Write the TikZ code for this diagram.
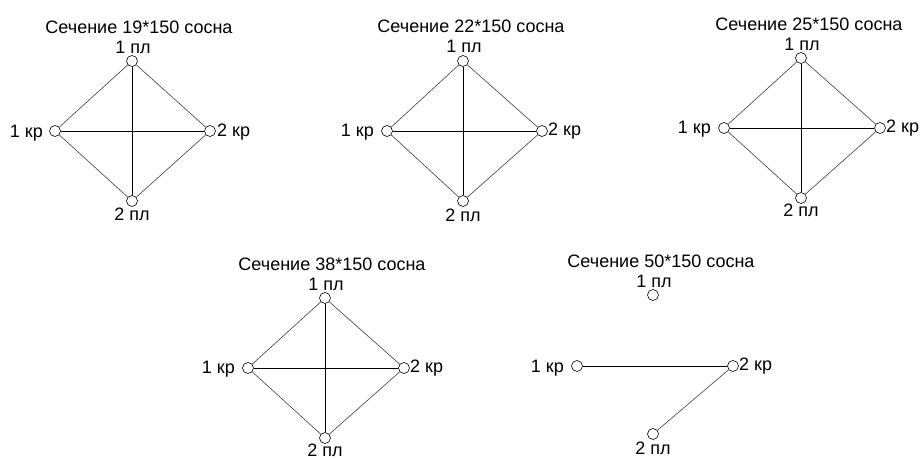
\documentclass[tikz,border=0pt]{standalone}
\usepackage{fontspec}
\setmainfont{Liberation Sans}
\begin{document}
\begin{tikzpicture}[x=1pt,y=-1pt,
  pt/.style={circle,draw=black,fill=white,minimum size=11pt,inner sep=0pt,line width=0.6pt},
  lbl/.style={inner sep=0pt,anchor=base,font=\fontsize{18}{21}\selectfont},
  lbll/.style={lbl,anchor=base east},
  lblr/.style={lbl,anchor=base west},
  ttl/.style={lbl},
  straight/.style={draw=black,line width=0.7pt},
  diag/.style={draw=black!75,line width=0.6pt}]
\useasboundingbox (0,0) rectangle (923,458);
\fill[white] (0,0) rectangle (923,458);

% Diagram 1
\node[ttl] (T1) at (139,33) {Сечение 19*150 сосна};
\node[pt] (a1) at (132,61) {};
\node[pt] (a2) at (55,131) {};
\node[pt] (a3) at (210,131) {};
\node[pt] (a4) at (132,201) {};
\node[lbl] (a1l) at (133,53) {1 пл};
\node[lbll] (a2l) at (43,137) {1 кр};
\node[lblr] (a3l) at (217,136) {2 кр};
\node[lbl] (a4l) at (132,220) {2 пл};
\draw[straight] (a1) -- (a4);
\draw[straight] (a2) -- (a3);
\draw[diag] (a1) -- (a2) -- (a4) -- (a3) -- (a1);

% Diagram 2
\node[ttl] (T2) at (471,32) {Сечение 22*150 сосна};
\node[pt] (b1) at (463,61) {};
\node[pt] (b2) at (387,131) {};
\node[pt] (b3) at (542,131) {};
\node[pt] (b4) at (463,201) {};
\node[lbl] (b1l) at (464,52) {1 пл};
\node[lbll] (b2l) at (374,136) {1 кр};
\node[lblr] (b3l) at (548,135) {2 кр};
\node[lbl] (b4l) at (463,221) {2 пл};
\draw[straight] (b1) -- (b4);
\draw[straight] (b2) -- (b3);
\draw[diag] (b1) -- (b2) -- (b4) -- (b3) -- (b1);

% Diagram 3
\node[ttl] (T3) at (809,30) {Сечение 25*150 сосна};
\node[pt] (c1) at (801,58) {};
\node[pt] (c2) at (724,128) {};
\node[pt] (c3) at (880,128) {};
\node[pt] (c4) at (801,198) {};
\node[lbl] (c1l) at (802,50) {1 пл};
\node[lbll] (c2l) at (711,133) {1 кр};
\node[lblr] (c3l) at (886,132) {2 кр};
\node[lbl] (c4l) at (801,216) {2 пл};
\draw[straight] (c1) -- (c4);
\draw[straight] (c2) -- (c3);
\draw[diag] (c1) -- (c2) -- (c4) -- (c3) -- (c1);

% Diagram 4
\node[ttl] (T4) at (332,270) {Сечение 38*150 сосна};
\node[pt] (d1) at (325,298) {};
\node[pt] (d2) at (248,368) {};
\node[pt] (d3) at (404,368) {};
\node[pt] (d4) at (325,438) {};
\node[lbl] (d1l) at (326,290) {1 пл};
\node[lbll] (d2l) at (235,373) {1 кр};
\node[lblr] (d3l) at (410,372) {2 кр};
\node[lbl] (d4l) at (325,456) {2 пл};
\draw[straight] (d1) -- (d4);
\draw[straight] (d2) -- (d3);
\draw[diag] (d1) -- (d2) -- (d4) -- (d3) -- (d1);

% Diagram 5
\node[ttl] (T5) at (661,267) {Сечение 50*150 сосна};
\node[pt] (e1) at (653,295) {};
\node[pt] (e2) at (577,366) {};
\node[pt] (e3) at (733,366) {};
\node[pt] (e4) at (653,434) {};
\node[lbl] (e1l) at (654,287) {1 пл};
\node[lbll] (e2l) at (564,372) {1 кр};
\node[lblr] (e3l) at (739,370) {2 кр};
\node[lbl] (e4l) at (653,454) {2 пл};
\draw[straight] (e2) -- (e3);
\draw[diag] (e3) -- (e4);
\end{tikzpicture}
\end{document}
